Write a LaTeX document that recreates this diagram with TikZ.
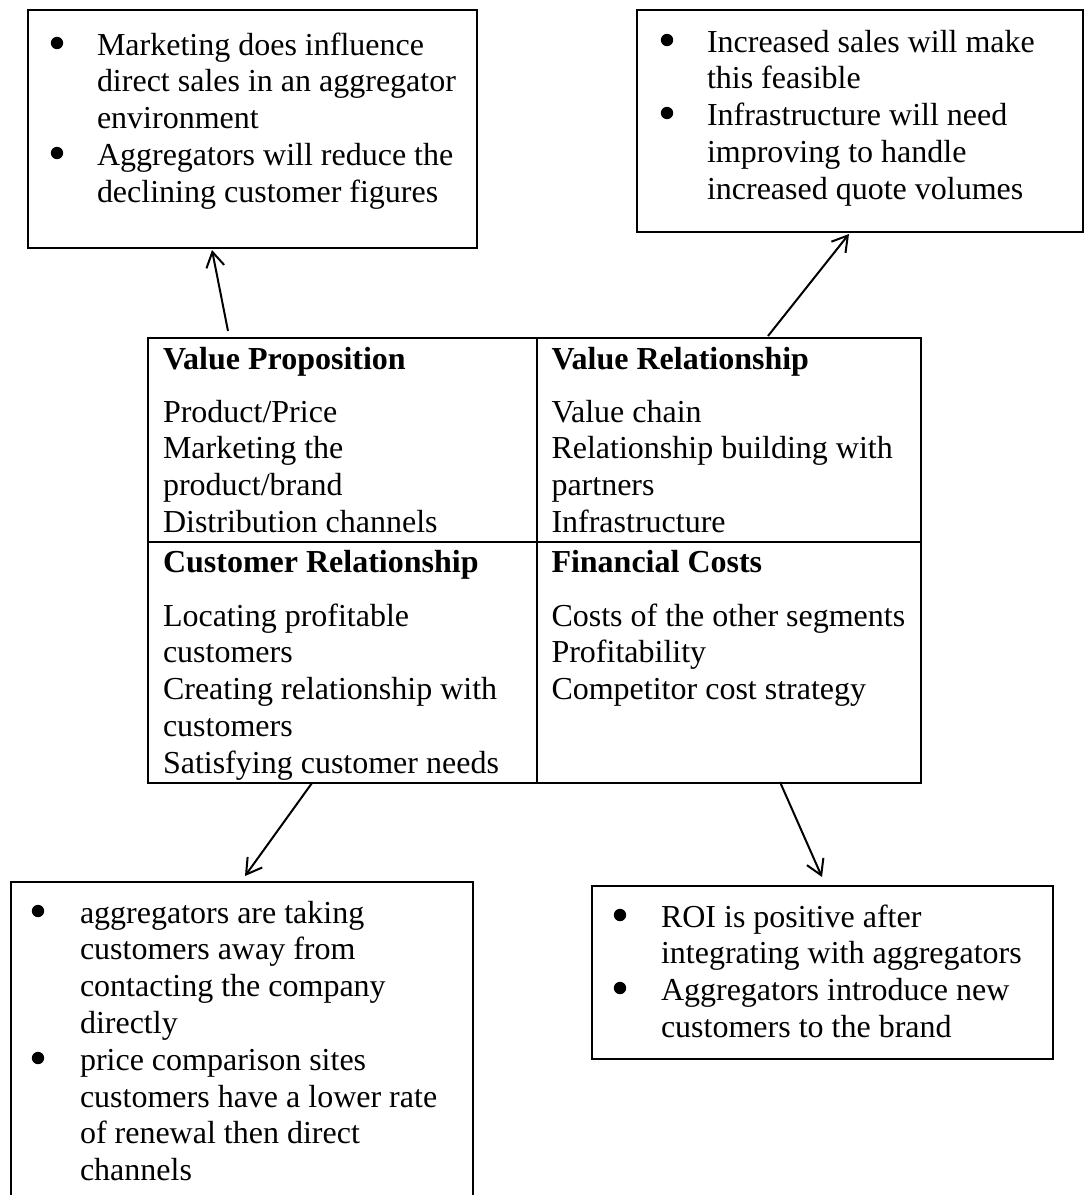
\documentclass[tikz,border=0pt]{standalone}
\usepackage{fontspec}
\setmainfont{Liberation Serif}
\usetikzlibrary{arrows.meta,calc}
\begin{document}
\begin{tikzpicture}[x=0.5pt,y=-0.5pt,
  box/.style={draw, line width=1pt, rectangle, anchor=north west, inner sep=0pt, outer sep=0pt},
  txt/.style={anchor=base west, inner sep=0pt, outer sep=0pt, font=\fontsize{16pt}{18.4pt}\selectfont},
  hdr/.style={txt, font=\fontsize{16pt}{18.4pt}\selectfont\bfseries},
  arr/.style={line width=1pt, -{Straight Barb[length=7.5pt,width=9pt,line width=1pt]}}]
\path[use as bounding box, clip] (0,0) rectangle (1085,1195);
% boxes
\node[box, minimum width=224.5pt, minimum height=119pt] (tl) at (28,10) {};
\node[box, minimum width=223pt, minimum height=111pt] (tr) at (637,10) {};
\node[box, minimum width=194.5pt, minimum height=102pt] (vp) at (148,338) {};
\node[box, minimum width=192pt, minimum height=102pt] (vr) at (537,338) {};
\node[box, minimum width=194.5pt, minimum height=120.5pt] (cr) at (148,542) {};
\node[box, minimum width=192pt, minimum height=120.5pt] (fc) at (537,542) {};
\node[box, minimum width=231pt, minimum height=200pt] (bl) at (11,882) {};
\node[box, minimum width=230.5pt, minimum height=86.5pt] (br) at (592,886) {};
% arrows
\draw[arr] ([xshift=40pt,yshift=3.5pt]vp.north west) -- ([xshift=92pt,yshift=-1pt]tl.south west);
\draw[arr] ([xshift=115.5pt,yshift=1pt]vr.north west) -- ([xshift=106pt,yshift=-1pt]tr.south west);
\draw[arr] ([xshift=82pt]cr.south west) -- ([xshift=117pt,yshift=3pt]bl.north west);
\draw[arr] ([xshift=121.5pt,yshift=0.5pt]fc.south west) -- ([xshift=115pt,yshift=4.5pt]br.north west);
% top left text
\foreach \t [count=\i] in {Marketing does influence, direct sales in an aggregator, environment, Aggregators will reduce the, declining customer figures}
  \node[txt] (tlt\i) at (97,{55+36.8*(\i-1)}) {\t};
\fill (57,43) circle (3.1pt);
\fill (57,153) circle (3.1pt);
% top right text
\foreach \t [count=\i] in {Increased sales will make, this feasible, Infrastructure will need, improving to handle, increased quote volumes}
  \node[txt] (trt\i) at (707,{52+36.8*(\i-1)}) {\t};
\fill (667,40) circle (3.1pt);
\fill (667,113) circle (3.1pt);
% table
\node[hdr] (vph) at (163,369) {Value Proposition};
\foreach \t [count=\i] in {Product/Price, Marketing the, product/brand, Distribution channels}
  \node[txt] (vpt\i) at (163,{422+36.8*(\i-1)}) {\t};
\node[hdr] (vrh) at (551.5,369) {Value Relationship};
\foreach \t [count=\i] in {Value chain, Relationship building with, partners, Infrastructure}
  \node[txt] (vrt\i) at (551.5,{422+36.8*(\i-1)}) {\t};
\node[hdr] (crh) at (163,572) {Customer Relationship};
\foreach \t [count=\i] in {Locating profitable, customers, Creating relationship with, customers, Satisfying customer needs}
  \node[txt] (crt\i) at (163,{626+36.8*(\i-1)}) {\t};
\node[hdr] (fch) at (551.5,572) {Financial Costs};
\foreach \t [count=\i] in {Costs of the other segments, Profitability, Competitor cost strategy}
  \node[txt] (fct\i) at (551.5,{626+36.8*(\i-1)}) {\t};
% bottom left text
\foreach \t [count=\i] in {aggregators are taking, customers away from, contacting the company, directly, price comparison sites, customers have a lower rate, of renewal then direct, channels}
  \node[txt] (blt\i) at (80,{923+36.8*(\i-1)}) {\t};
\fill (38,911) circle (3.1pt);
\fill (38,1058) circle (3.1pt);
% bottom right text
\foreach \t [count=\i] in {ROI is positive after, integrating with aggregators, Aggregators introduce new, customers to the brand}
  \node[txt] (brt\i) at (661,{927+36.8*(\i-1)}) {\t};
\fill (620,915) circle (3.1pt);
\fill (620,988) circle (3.1pt);
\end{tikzpicture}
\end{document}
